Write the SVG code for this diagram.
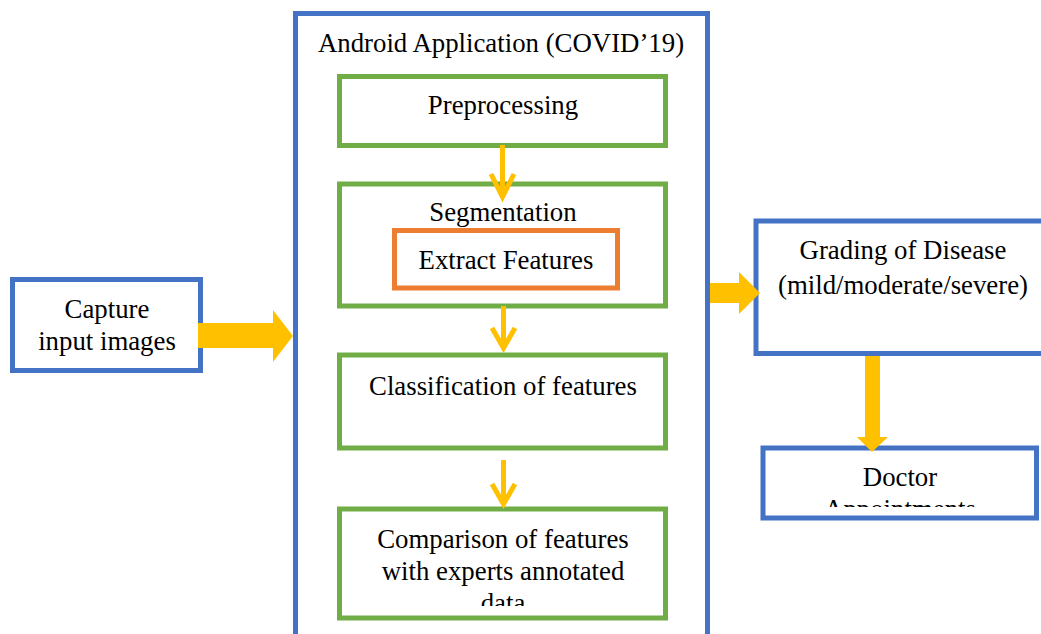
<svg xmlns="http://www.w3.org/2000/svg" width="1041" height="634" viewBox="0 0 1041 634">
<style>
.blue{fill:#fff;stroke:#4472C4;stroke-width:5}
.green{fill:#fff;stroke:#70AD47;stroke-width:5}
.orange{fill:#fff;stroke:#ED7D31;stroke-width:5}
text{font-family:'Liberation Serif','Times New Roman',serif;font-size:26.8px;fill:#000;text-anchor:middle}
.thin{fill:none;stroke:#FFC000;stroke-width:5}
.block{fill:#FFC000}
</style>
<defs>
<clipPath id="clipData"><rect x="340" y="510" width="326" height="96"/></clipPath>
<clipPath id="clipDoc"><rect x="763" y="448" width="273" height="59"/></clipPath>
</defs>
<rect width="1041" height="634" fill="#fff"/>
<g id="capture">
<rect class="blue" x="12.5" y="279.5" width="188" height="91"/>
<text x="107" y="318">Capture</text>
<text x="107" y="350">input images</text>
</g>
<g id="android">
<rect class="blue" x="295.5" y="13.5" width="412" height="640"/>
<text x="501" y="52">Android Application (COVID’19)</text>
</g>
<g id="preprocessing">
<rect class="green" x="339.5" y="76.5" width="326" height="69"/>
<text x="503" y="114">Preprocessing</text>
</g>
<g id="segmentation">
<rect class="green" x="339.5" y="184" width="326" height="122"/>
<text x="503" y="221">Segmentation</text>
</g>
<g id="extract">
<rect class="orange" x="394.5" y="230.5" width="223" height="57.5"/>
<text x="506" y="269">Extract Features</text>
</g>
<g id="classification">
<rect class="green" x="339.5" y="355" width="326" height="93"/>
<text x="503" y="395">Classification of features</text>
</g>
<g id="comparison">
<rect class="green" x="339.5" y="509" width="326" height="109"/>
<g clip-path="url(#clipData)">
<text x="503" y="548">Comparison of features</text>
<text x="503" y="580">with experts annotated</text>
<text x="503" y="612">data</text>
</g>
</g>
<g id="grading">
<rect class="blue" x="756" y="221" width="320" height="132.5"/>
<text x="903" y="259">Grading of Disease</text>
<text x="903" y="294">(mild/moderate/severe)</text>
</g>
<g id="doctor">
<rect class="blue" x="763" y="448" width="273.5" height="70"/>
<g clip-path="url(#clipDoc)">
<text x="900" y="486">Doctor</text>
<text x="900" y="518">Appointments</text>
</g>
</g>
<g id="connectors">
<path class="block" d="M198,323 L273,323 L273,310 L293,336 L273,362 L273,348 L198,348 Z"/>
<path class="block" d="M710,283 L739,283 L739,272 L760,293 L739,314 L739,303 L710,303 Z"/>
<path class="block" d="M865,356 L880,356 L880,437 L888,437 L872,452 L857,437 L865,437 Z"/>
<path class="thin" d="M502.5,145 L502.5,197 M491,174 L502.5,197 L514,174"/>
<path class="thin" d="M503.5,306 L503.5,348 M492,328 L503.5,348 L515,328"/>
<path class="thin" d="M503.5,460 L503.5,504 M492,484 L503.5,504 L515,484"/>
</g>
</svg>
